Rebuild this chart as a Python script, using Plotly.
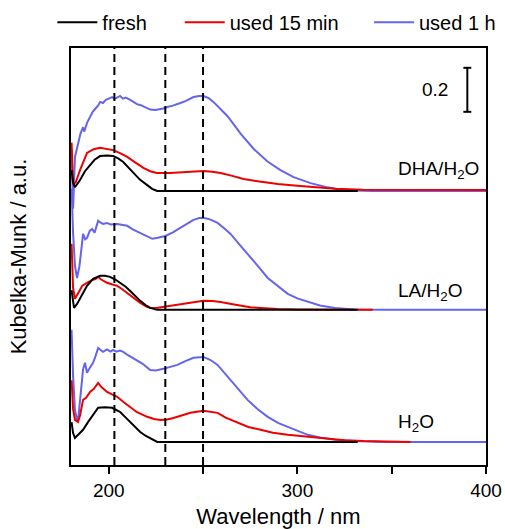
import plotly.graph_objects as go

# ---------------- data (values relative to each sample's own baseline) ----------------
samples = ["DHA/H<sub>2</sub>O", "LA/H<sub>2</sub>O", "H<sub>2</sub>O"]
offsets = [1.245, 0.705, 0.105]          # vertical stacking offsets (a.u.)
conditions = ["used 1 h", "used 15 min", "fresh"]

# DHA/H2O
dha_fresh_wl = [180.3, 181.1, 182.1, 184.8, 187.4, 190.1, 192.5, 195.4, 199.0, 202.3, 205.0, 207.7,
                210.5, 213.0, 216.5, 220.4, 223.0, 225.7, 240, 260, 280, 300, 320, 332]
dha_fresh = [0.095, 0.04, 0.018, 0.05, 0.09, 0.118, 0.142, 0.159, 0.162, 0.159, 0.148, 0.132,
             0.108, 0.082, 0.052, 0.027, 0.01, 0.0, 0, 0, 0, 0, 0, 0]
dha_15_wl = [180.3, 181.1, 182.5, 185.0, 188.5, 192.0, 195.4, 199.0, 202.3, 206.0, 209.8, 214.0,
             218.4, 222.0, 225.5, 232.4, 237.0, 241.5, 246.0, 250.2, 255.0, 259.2, 265.0, 271.5,
             280.0, 289.6, 300.0, 307.0, 320.0, 335.0, 360.0, 380.0, 400.0]
dha_15 = [0.22, 0.03, 0.04, 0.1, 0.173, 0.19, 0.197, 0.193, 0.186, 0.172, 0.155, 0.13,
          0.105, 0.09, 0.082, 0.082, 0.084, 0.087, 0.09, 0.091, 0.088, 0.082, 0.07, 0.055,
          0.043, 0.032, 0.024, 0.018, 0.01, 0.006, 0.005, 0.005, 0.005]
dha_1h_wl = [180.3, 181.1, 182.1, 183.5, 185.0, 186.4, 187.0, 188.5, 190.0, 191.5, 193.0, 194.5,
             195.4, 197.0, 198.5, 200.0, 201.8, 203.0, 204.5, 206.0, 207.5, 209.0, 211.4, 213.0,
             215.0, 217.0, 220.4, 222.0, 224.7, 227.0, 229.0, 231.0, 234.0, 238.0, 241.0, 244.9,
             248.0, 250.2, 253.0, 255.5, 259.0, 263.0, 270.0, 277.0, 284.0, 291.0, 298.0, 307.0,
             315.0, 322.0, 330.0, 340.0, 370.0, 400.0]
dha_1h = [0.19, -0.08, 0.155, 0.2, 0.26, 0.29, 0.27, 0.31, 0.335, 0.36, 0.375, 0.39,
          0.405, 0.4, 0.415, 0.42, 0.427, 0.418, 0.425, 0.432, 0.42, 0.425, 0.414, 0.405,
          0.395, 0.39, 0.377, 0.37, 0.368, 0.37, 0.375, 0.382, 0.388, 0.4, 0.41, 0.427,
          0.432, 0.432, 0.422, 0.405, 0.375, 0.34, 0.26, 0.19, 0.135, 0.095, 0.063, 0.036,
          0.018, 0.008, 0.002, 0.0, 0.0, 0.0]

# LA/H2O
la_fresh_wl = [180.3, 181.1, 181.6, 183.2, 186.0, 188.5, 191.7, 195.4, 198.0, 200.7, 203.5, 206.1,
               209.0, 211.4, 214.0, 216.7, 219.5, 222.0, 225.7, 260, 300, 332]
la_fresh = [0.09, 0.02, 0.009, 0.027, 0.07, 0.109, 0.141, 0.155, 0.155, 0.15, 0.138, 0.123,
            0.105, 0.086, 0.062, 0.041, 0.022, 0.009, 0.0, 0, 0, 0]
la_15_wl = [180.3, 181.1, 182.1, 184.8, 186.0, 188.5, 191.0, 193.0, 194.4, 196.0, 199.1, 202.0,
            204.5, 207.0, 209.8, 213.0, 216.7, 220.0, 222.0, 226.0, 229.0, 235.0, 239.6, 245.0,
            250.2, 255.0, 259.3, 265.0, 269.9, 275.0, 280.5, 289.6, 300.0, 320.0, 340.0]
la_15 = [0.3, 0.1, 0.05, 0.095, 0.11, 0.123, 0.135, 0.14, 0.15, 0.138, 0.123, 0.115,
         0.109, 0.095, 0.077, 0.055, 0.032, 0.015, 0.009, 0.01, 0.014, 0.02, 0.027, 0.036,
         0.041, 0.04, 0.036, 0.027, 0.018, 0.012, 0.009, 0.004, 0.002, 0.0, 0.0]
la_1h_wl = [180.3, 181.1, 182.1, 183.2, 184.5, 186.4, 187.5, 188.5, 190.0, 191.2, 192.5, 194.4,
            196.0, 197.0, 199.0, 201.0, 204.5, 207.0, 209.8, 213.0, 216.7, 220.0, 223.1, 226.0,
            230.0, 234.0, 238.0, 241.5, 244.9, 248.0, 250.2, 254.0, 257.7, 261.0, 264.6, 269.0,
            273.6, 279.0, 284.3, 290.0, 294.9, 300.0, 305.5, 312.0, 320.0, 330.0, 345.0, 400.0]
la_1h = [0.55, 0.35, 0.2, 0.145, 0.2, 0.345, 0.32, 0.327, 0.36, 0.368, 0.35, 0.405,
         0.395, 0.39, 0.395, 0.388, 0.39, 0.385, 0.382, 0.365, 0.35, 0.335, 0.323, 0.328,
         0.336, 0.352, 0.373, 0.392, 0.409, 0.417, 0.418, 0.41, 0.395, 0.372, 0.345, 0.3,
         0.255, 0.2, 0.145, 0.105, 0.073, 0.052, 0.036, 0.02, 0.008, 0.002, 0.0, 0.0]

# H2O
w_fresh_wl = [180.3, 181.1, 182.1, 183.5, 186.4, 189.0, 191.7, 194.4, 198.0, 201.8, 204.0, 206.1,
              208.5, 211.4, 214.0, 216.7, 219.5, 222.0, 225.7, 260, 300, 332]
w_fresh = [0.09, 0.04, 0.018, 0.03, 0.055, 0.09, 0.123, 0.155, 0.157, 0.155, 0.145, 0.136,
           0.115, 0.091, 0.068, 0.045, 0.028, 0.018, 0.0, 0, 0, 0]
w_15_wl = [180.3, 181.1, 182.1, 183.7, 184.8, 186.4, 188.0, 190.1, 192.0, 194.4, 196.0, 199.1,
           202.0, 204.5, 208.0, 211.4, 215.0, 220.4, 224.0, 227.3, 231.0, 234.3, 239.0, 243.3,
           250.2, 254.0, 257.7, 262.0, 268.3, 274.0, 280.5, 287.0, 294.9, 307.1, 315.0, 325.0,
           335.0, 345.0, 360.0]
w_15 = [0.28, 0.15, 0.1, 0.091, 0.12, 0.191, 0.2, 0.227, 0.24, 0.268, 0.25, 0.227,
        0.215, 0.205, 0.18, 0.159, 0.135, 0.114, 0.104, 0.1, 0.102, 0.109, 0.122, 0.132,
        0.141, 0.138, 0.132, 0.11, 0.086, 0.068, 0.055, 0.042, 0.032, 0.023, 0.015, 0.008,
        0.004, 0.002, 0.0]
w_1h_wl = [180.3, 181.1, 182.1, 183.2, 184.0, 185.5, 186.4, 187.4, 188.5, 189.5, 191.7, 193.0,
           194.4, 196.0, 197.0, 199.0, 201.0, 202.3, 204.0, 206.0, 207.7, 210.0, 212.0, 215.1,
           218.0, 222.0, 225.0, 228.9, 232.0, 236.4, 240.0, 244.9, 250.2, 254.0, 257.7, 261.0,
           264.6, 269.0, 273.6, 279.0, 284.3, 290.0, 294.9, 300.0, 305.5, 312.0, 320.0, 330.0,
           345.0, 400.0]
w_1h = [0.51, 0.3, 0.145, 0.1, 0.12, 0.25, 0.33, 0.36, 0.314, 0.33, 0.359, 0.39,
        0.427, 0.415, 0.409, 0.42, 0.41, 0.418, 0.41, 0.415, 0.409, 0.395, 0.385, 0.373,
        0.355, 0.327, 0.325, 0.332, 0.34, 0.35, 0.365, 0.382, 0.386, 0.372, 0.35, 0.318,
        0.282, 0.236, 0.191, 0.148, 0.114, 0.085, 0.068, 0.05, 0.032, 0.02, 0.01, 0.004,
        0.0, 0.0]

series = {
    "DHA/H<sub>2</sub>O": {"fresh": (dha_fresh_wl, dha_fresh), "used 15 min": (dha_15_wl, dha_15),
                           "used 1 h": (dha_1h_wl, dha_1h)},
    "LA/H<sub>2</sub>O": {"fresh": (la_fresh_wl, la_fresh), "used 15 min": (la_15_wl, la_15),
                          "used 1 h": (la_1h_wl, la_1h)},
    "H<sub>2</sub>O": {"fresh": (w_fresh_wl, w_fresh), "used 15 min": (w_15_wl, w_15),
                       "used 1 h": (w_1h_wl, w_1h)},
}
marker_lines = [203, 230, 250]     # dashed reference wavelengths (nm)
scale_bar = 0.2

# ---------------- styling ----------------
FONT = "Arial, Liberation Sans, sans-serif"
colors = {"fresh": "#000000", "used 15 min": "#ee0000", "used 1 h": "#6464ee"}
legend_ids = {"fresh": "legend", "used 15 min": "legend2", "used 1 h": "legend3"}

fig = go.Figure()
for cond in conditions:
    for i, (s, off) in enumerate(zip(samples, offsets)):
        wl, val = series[s][cond]
        fig.add_trace(go.Scatter(
            x=wl, y=[v + off for v in val], mode="lines",
            line=dict(color=colors[cond], width=2),
            name=cond, showlegend=(i == 0), legend=legend_ids[cond],
            hoverinfo="skip"))

for v in marker_lines:
    fig.add_shape(type="line", xref="x", yref="paper", x0=v, x1=v, y0=0, y1=1,
                  line=dict(color="black", width=2, dash="8px,5px"))

# scale bar
sb_x, sb_top = 390.1, 1.805
fig.add_shape(type="line", xref="x", yref="y", x0=sb_x, x1=sb_x, y0=sb_top - scale_bar, y1=sb_top,
              line=dict(color="black", width=2))
for yy in (sb_top - scale_bar, sb_top):
    fig.add_shape(type="line", xref="x", yref="y", x0=sb_x - 2.1, x1=sb_x + 2.1, y0=yy, y1=yy,
                  line=dict(color="black", width=2))
fig.add_annotation(x=372.8, y=sb_top - scale_bar / 2, text=f"{scale_bar}", showarrow=False,
                   font=dict(family=FONT, size=19, color="black"))

label_y = [1.34, 0.785, 0.19]
for s, ly in zip(samples, label_y):
    fig.add_annotation(x=352.3, y=ly, text=s, showarrow=False, xanchor="left", yanchor="middle",
                       font=dict(family=FONT, size=19, color="black"))

leg_common = dict(orientation="h", yanchor="middle", xanchor="left", y=1.062,
                  bgcolor="rgba(0,0,0,0)", font=dict(family=FONT, size=20, color="black"),
                  itemwidth=40)
fig.update_layout(
    width=505, height=529,
    margin=dict(l=71, r=19, t=48, b=64, autoexpand=False),
    paper_bgcolor="white", plot_bgcolor="white",
    font=dict(family=FONT, color="black"),
    legend=dict(x=-0.045, **leg_common),
    legend2=dict(x=0.262, **leg_common),
    legend3=dict(x=0.718, **leg_common),
    xaxis=dict(range=[180, 400], showline=True, linecolor="black", linewidth=2, mirror=True,
               ticks="outside", ticklen=7, tickwidth=2, tickcolor="black",
               tickvals=[200, 250, 300, 350, 400], ticktext=["200", "", "300", "", "400"],
               tickfont=dict(family=FONT, size=19, color="black"),
               showgrid=False, zeroline=False,
               title=dict(text="Wavelength / nm", font=dict(family=FONT, size=22, color="black"),
                          standoff=11)),
    yaxis=dict(range=[0, 1.895], showline=True, linecolor="black", linewidth=2, mirror=True,
               ticks="", showticklabels=False, showgrid=False, zeroline=False,
               title=dict(text="Kubelka-Munk / a.u.", font=dict(family=FONT, size=22, color="black"),
                          standoff=36)),
)

fig.write_html("out.html")
